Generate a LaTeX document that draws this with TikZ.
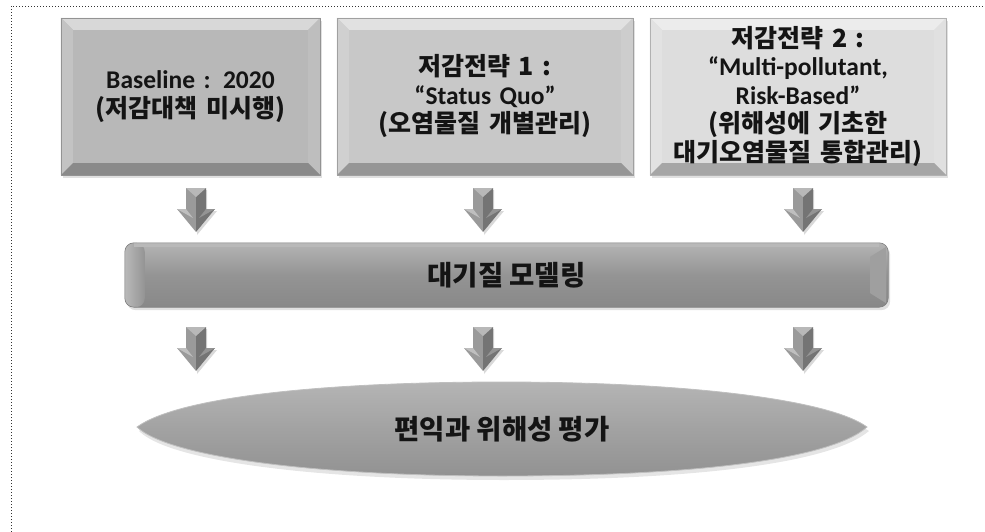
\documentclass[tikz,border=0pt]{standalone}
\usepackage{fontspec}
\setmainfont{Noto Sans CJK KR}
\newfontfamily\latf{Carlito}
\usetikzlibrary{calc,backgrounds}
\definecolor{cA}{HTML}{B8B8B8}
\definecolor{cB}{HTML}{C8C8C8}
\definecolor{cC}{HTML}{DDDDDD}
\definecolor{cBar}{HTML}{949494}
\definecolor{cEll}{HTML}{A2A2A2}
\definecolor{arL}{HTML}{9A9A9A}
\definecolor{arR}{HTML}{747474}
\newcommand{\bevelbox}[3]{%
  \fill[black!12] ($(#1.north west)+(2,3)$) rectangle ($(#1.south east)+(2,3)$);
  \fill[#2] (#1.north west) rectangle (#1.south east);
  \fill[#2!55!white] (#1.north west) -- (#1.north east) -- ($(#1.north east)+(-#3,#3)$) -- ($(#1.north west)+(#3,#3)$) -- cycle;
  \fill[#2!85!white] (#1.north west) -- (#1.south west) -- ($(#1.south west)+(#3,-#3)$) -- ($(#1.north west)+(#3,#3)$) -- cycle;
  \fill[#2!92!white] (#1.north east) -- (#1.south east) -- ($(#1.south east)+(-#3,-#3)$) -- ($(#1.north east)+(-#3,#3)$) -- cycle;
  \fill[#2!75!black] (#1.south west) -- (#1.south east) -- ($(#1.south east)+(-#3,-#3)$) -- ($(#1.south west)+(#3,-#3)$) -- cycle;
  \draw[#2!80!black, line width=0.5pt] (#1.north west) rectangle (#1.south east);
}
\newcommand{\lt}[1]{{\latf\bfseries\fontsize{25.5}{28.5}\selectfont #1}}
\tikzset{
  boxtext/.style={font=\bfseries\fontsize{25}{28.5}\selectfont, align=center,
    inner sep=0pt, minimum height=157pt, text=black!92},
  bigtext/.style={font=\bfseries\fontsize{27.5}{30}\selectfont, text=black!92, inner sep=0pt},
  blockarrow/.pic={
    \fill[black!15] (1,2) -- (11,2) -- (11,23) -- (21,23) -- (1,47) -- cycle;
    \fill[arL] (0,0) -- (-10,0) -- (-10,21) -- (-19,21) -- (0,44) -- cycle;
    \fill[arR] (0,0) -- (10,0) -- (10,21) -- (19,21) -- (0,44) -- cycle;
    \fill[black!28] (-10,0) -- (10,0) -- (0,9) -- cycle;
    \fill[black!25] (-19,21) -- (-10,21) -- (-3,30) -- cycle;
    \fill[black!42] (19,21) -- (10,21) -- (3,30) -- cycle;
  }
}
\begin{document}
\begin{tikzpicture}[x=1pt,y=-1pt]
\useasboundingbox (0,0) rectangle (985,532);
\draw[line width=0.9pt, dash pattern=on 1pt off 2pt, black!80] (11,532) -- (11,6) -- (985,6);

% top boxes
\node[boxtext, minimum width=259pt, text width=256pt] (b1) at (190.5,96.5)
  {\lt{Baseline : 2020}\\(저감대책 미시행)};
\node[boxtext, minimum width=296pt, text width=292pt] (b2) at (485,96.5)
  {저감전략 1 :\\\lt{“Status Quo”}\\(오염물질 개별관리)};
\node[boxtext, minimum width=296pt, text width=296pt] (b3) at (798,96.5)
  {저감전략 2 :\\\lt{“Multi-pollutant,}\\\lt{Risk-Based”}\\(위해성에 기초한\\대기오염물질 통합관리)};

% modelling bar
\node[bigtext, minimum width=763pt, minimum height=64pt] (model) at (506.5,275) {대기질 모델링};

% evaluation lens
\node[bigtext] (eval) at (502,429) {편익과 위해성 평가};

\begin{scope}[on background layer]
  \bevelbox{b1}{cA}{12}
  \bevelbox{b2}{cB}{12}
  \bevelbox{b3}{cC}{12}
  % bar
  \fill[black!12, rounded corners=9pt] ($(model.north west)+(2,3)$) rectangle ($(model.south east)+(2,3)$);
  \shade[top color=cBar!70!white, bottom color=cBar!92!black, middle color=cBar, rounded corners=9pt]
    (model.north west) rectangle (model.south east);
  \shade[left color=cBar!65!white, right color=cBar, rounded corners=9pt]
    (model.north west) -- ($(model.north west)+(20,0)$) -- ($(model.south west)+(20,0)$) -- (model.south west) -- cycle;
  \fill[cBar!90!white]
    ($(model.north east)+(-2,4)$) -- ($(model.north east)+(-18,14)$) -- ($(model.south east)+(-18,-14)$) -- ($(model.south east)+(-2,-4)$) -- cycle;
  \fill[cBar!65!white] ($(model.north west)+(9,0)$) rectangle ($(model.north east)+(-9,4)$);
  \draw[cBar!85!black, line width=0.6pt, rounded corners=9pt] (model.north west) rectangle (model.south east);
  % lens
  \coordinate (lensL) at (137,427);
  \coordinate (lensR) at (867,427);
  \fill[black!10] ($(lensL)+(2,4)$) .. controls (180,400) and (330,386) .. (504,386)
     .. controls (690,386) and (830,404) .. ($(lensR)+(2,4)$)
     .. controls (830,464) and (690,480) .. (504,480)
     .. controls (320,480) and (170,462) .. cycle;
  \shade[top color=cEll!80!white, bottom color=cEll!90!black, middle color=cEll]
     (lensL) .. controls (180,396) and (330,382) .. (502,382)
     .. controls (690,382) and (830,400) .. (lensR)
     .. controls (830,460) and (690,476) .. (502,476)
     .. controls (320,476) and (170,458) .. cycle;
  \draw[white!75!black, line width=0.8pt]
     (lensL) .. controls (180,396) and (330,382) .. (502,382)
     .. controls (690,382) and (830,400) .. (lensR)
     .. controls (830,460) and (690,476) .. (502,476)
     .. controls (320,476) and (170,458) .. cycle;
\end{scope}

% block arrows
\coordinate (u1) at (196,188);
\coordinate (u2) at (483,188);
\coordinate (u3) at (803,188);
\coordinate (d1) at (196,327);
\coordinate (d2) at (483,327);
\coordinate (d3) at (803,327);
\foreach \c in {u1,u2,u3,d1,d2,d3} { \pic at (\c) {blockarrow}; }
\end{tikzpicture}
\end{document}
